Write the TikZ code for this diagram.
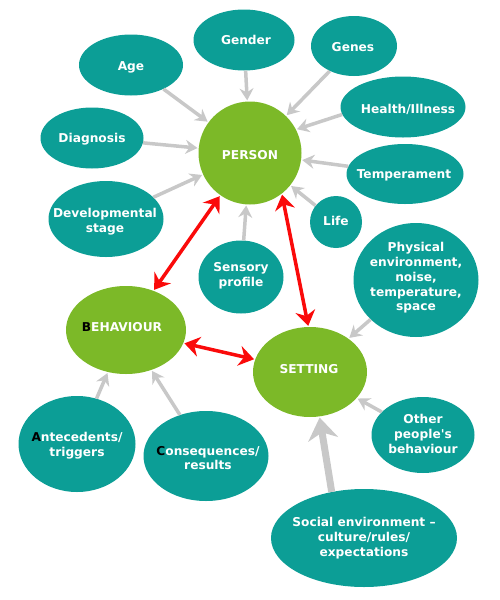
\documentclass[tikz,border=0pt]{standalone}
\usepackage{fontspec}
\setmainfont{DejaVu Sans}
\usetikzlibrary{shapes.geometric,arrows.meta}
\definecolor{teal1}{RGB}{12,158,150}
\definecolor{green1}{RGB}{124,185,40}
\definecolor{grey1}{RGB}{200,200,200}
\definecolor{red1}{RGB}{250,10,10}
\tikzset{
  bub/.style={ellipse, fill=teal1, inner sep=0pt},
  hub/.style={ellipse, fill=green1, inner sep=0pt},
  txt/.style={text=white, font=\bfseries\fontsize{12.2}{14.8}\selectfont, align=center, inner sep=0pt},
  feed/.style={draw=grey1, line width=3.5pt, -{Stealth[length=12pt,width=14pt,inset=4pt]}, shorten >=1pt},
  bigfeed/.style={draw=grey1, line width=7pt, -{Stealth[length=22pt,width=30pt,inset=7pt]}, shorten >=1pt},
  link/.style={draw=red1, line width=3.5pt, {Stealth[length=15pt,width=20pt,inset=5pt]}-{Stealth[length=15pt,width=20pt,inset=5pt]}, shorten >=1pt, shorten <=1pt},
}
\begin{document}
\begin{tikzpicture}[x=1pt,y=-1pt]
\useasboundingbox (0,0) rectangle (500,600);
% hubs
\node[hub, minimum width=103pt, minimum height=103pt] (person) at (250,153) {};
\node[txt] (person-t) at (250,155) {PERSON};
\node[hub, minimum width=120pt, minimum height=88pt] (behav) at (126,330) {};
\node[txt] (behav-t) at (122,327) {\textcolor{black}{B}EHAVIOUR};
\node[hub, minimum width=114pt, minimum height=90pt] (setting) at (310,372) {};
\node[txt] (setting-t) at (309,369) {SETTING};
% person factors
\node[bub, minimum width=104pt, minimum height=61pt] (age) at (131,65) {};
\node[txt] (age-t) at (131,67) {Age};
\node[bub, minimum width=101pt, minimum height=61pt] (gender) at (244,40) {};
\node[txt] (gender-t) at (246,40) {Gender};
\node[bub, minimum width=86pt, minimum height=60pt] (genes) at (354,46) {};
\node[txt] (genes-t) at (353,47) {Genes};
\node[bub, minimum width=125pt, minimum height=61pt] (health) at (403,107) {};
\node[txt] (health-t) at (408,109) {Health/Illness};
\node[bub, minimum width=117pt, minimum height=60pt] (temper) at (405,174) {};
\node[txt] (temper-t) at (404,175) {Temperament};
\node[bub, minimum width=52pt, minimum height=52pt] (life) at (336,222) {};
\node[txt] (life-t) at (336,221) {Life};
\node[bub, minimum width=103pt, minimum height=61pt] (diag) at (92,138) {};
\node[txt] (diag-t) at (92,139) {Diagnosis};
\node[bub, minimum width=115pt, minimum height=76pt] (devel) at (106,219) {};
\node[txt] (devel-t) at (105,222) {Developmental\\stage};
\node[bub, minimum width=85pt, minimum height=73pt] (sensory) at (241,277) {};
\node[txt] (sensory-t) at (241,276) {Sensory\\profile};
% setting factors
\node[bub, minimum width=125pt, minimum height=114pt] (phys) at (416,280) {};
\node[txt] (phys-t) at (416,278) {Physical\\environment,\\noise,\\temperature,\\space};
\node[bub, minimum width=103pt, minimum height=76pt] (other) at (423,435) {};
\node[txt] (other-t) at (423,434) {Other\\people\textquotesingle s\\behaviour};
\node[bub, minimum width=186pt, minimum height=98pt] (social) at (364,538) {};
\node[txt] (social-t) at (364,538) {Social environment --\\culture/rules/\\expectations};
% behaviour factors
\node[bub, minimum width=117pt, minimum height=96pt] (antec) at (77,444) {};
\node[txt] (antec-t) at (77,446) {\textcolor{black}{A}ntecedents/\\triggers};
\node[bub, minimum width=125pt, minimum height=90pt] (conseq) at (206,456) {};
\node[txt] (conseq-t) at (208,458) {\textcolor{black}{C}onsequences/\\results};
% grey arrows
\draw[feed] (age) -- (person);
\draw[feed] (gender) -- (person);
\draw[feed] (genes) -- (person);
\draw[feed] (health.187) -- (person.27);
\draw[feed] (temper) -- (person);
\draw[feed] (life) -- (person);
\draw[feed] (diag) -- (person);
\draw[feed] (devel) -- (person);
\draw[feed] (sensory) -- (person);
\draw[feed] (phys) -- (setting);
\draw[feed] (other) -- (setting);
\draw[bigfeed] (social.125) -- (setting.-78);
\draw[feed] (antec) -- (behav);
\draw[feed] (conseq) -- (behav);
% red links
\draw[link] (person) -- (behav);
\draw[link] (person.-52) -- (setting.92);
\draw[link] (behav) -- (setting);
\end{tikzpicture}
\end{document}
